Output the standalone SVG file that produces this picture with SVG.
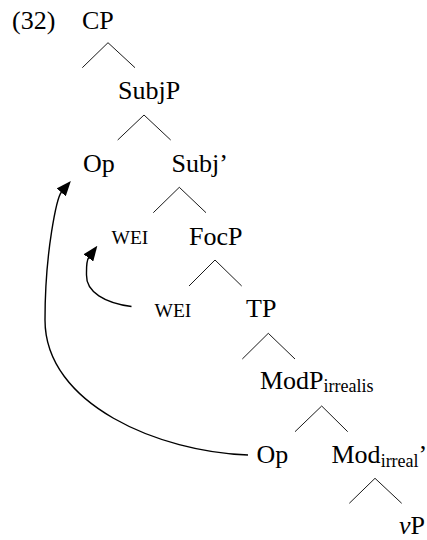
<svg xmlns="http://www.w3.org/2000/svg" width="427" height="540" viewBox="0 0 427 540">
  <style>
    text { font-family: 'Liberation Serif', 'Times New Roman', 'DejaVu Serif', serif; font-size: 26px; fill: #000; }
    .sc { font-size: 19.5px; }
    .sub { font-size: 18px; }
    .branch { stroke: #1a1a1a; stroke-width: 1; fill: none; }
    .move { stroke: #000; stroke-width: 1.4; fill: none; marker-end: url(#head); }
  </style>
  <defs>
    <marker id="head" markerUnits="userSpaceOnUse" viewBox="0 0 15 12" markerWidth="15" markerHeight="12" refX="0.5" refY="6" orient="auto">
      <path d="M0,0 L15,6 L0,12 z" fill="#000"/>
    </marker>
  </defs>

  <g font-family="Liberation Serif, serif">
  <text id="label" x="12" y="29">(32)</text>

  <g id="n-cp"><text x="82" y="29">CP</text></g>
  <g id="n-subjp"><text x="118" y="99">SubjP</text></g>
  <g id="n-op1"><text x="83" y="172">Op</text></g>
  <g id="n-subjbar"><text x="171.5" y="172">Subj’</text></g>
  <g id="n-wei1"><text class="sc" x="111.5" y="244">WEI</text></g>
  <g id="n-focp"><text x="189" y="245">FocP</text></g>
  <g id="n-wei2"><text class="sc" x="154.5" y="316.5">WEI</text></g>
  <g id="n-tp"><text x="246" y="317">TP</text></g>
  <g id="n-modp"><text x="260" y="389">ModP<tspan class="sub" dy="3">irrealis</tspan></text></g>
  <g id="n-op2"><text x="256.5" y="463">Op</text></g>
  <g id="n-modbar"><text x="331.5" y="463">Mod<tspan class="sub" dy="3.5">irreal</tspan><tspan dy="-3.5">’</tspan></text></g>
  <g id="n-vp"><text x="399" y="533.5"><tspan font-style="italic">v</tspan>P</text></g>
  </g>

  <g id="connectors">
    <!-- branches: each apex with its two daughters -->
    <path class="branch" d="M82.3,67.7 L108,42.7 L135,67.7"/>
    <path class="branch" d="M117.7,140 L144,115 L170.7,140"/>
    <path class="branch" d="M153.3,212.7 L179.3,187.3 L206,212.7"/>
    <path class="branch" d="M189,286 L215,260 L241.7,286"/>
    <path class="branch" d="M242.3,359 L268.3,333.3 L295,359"/>
    <path class="branch" d="M295,431.7 L321.7,406 L347.7,431.7"/>
    <path class="branch" d="M349.3,503.3 L375,478.3 L401.7,503.3"/>
    <!-- movement arrows -->
    <path class="move" d="M131.5,306.5 C105,303 86,292 86.5,275 C86.5,269 86.1,261 88.7,257.5"/>
    <path class="move" d="M248,455 C160,452 45,405 45,320 C45,250 57.1,197.2 61.5,192"/>
  </g>
</svg>
